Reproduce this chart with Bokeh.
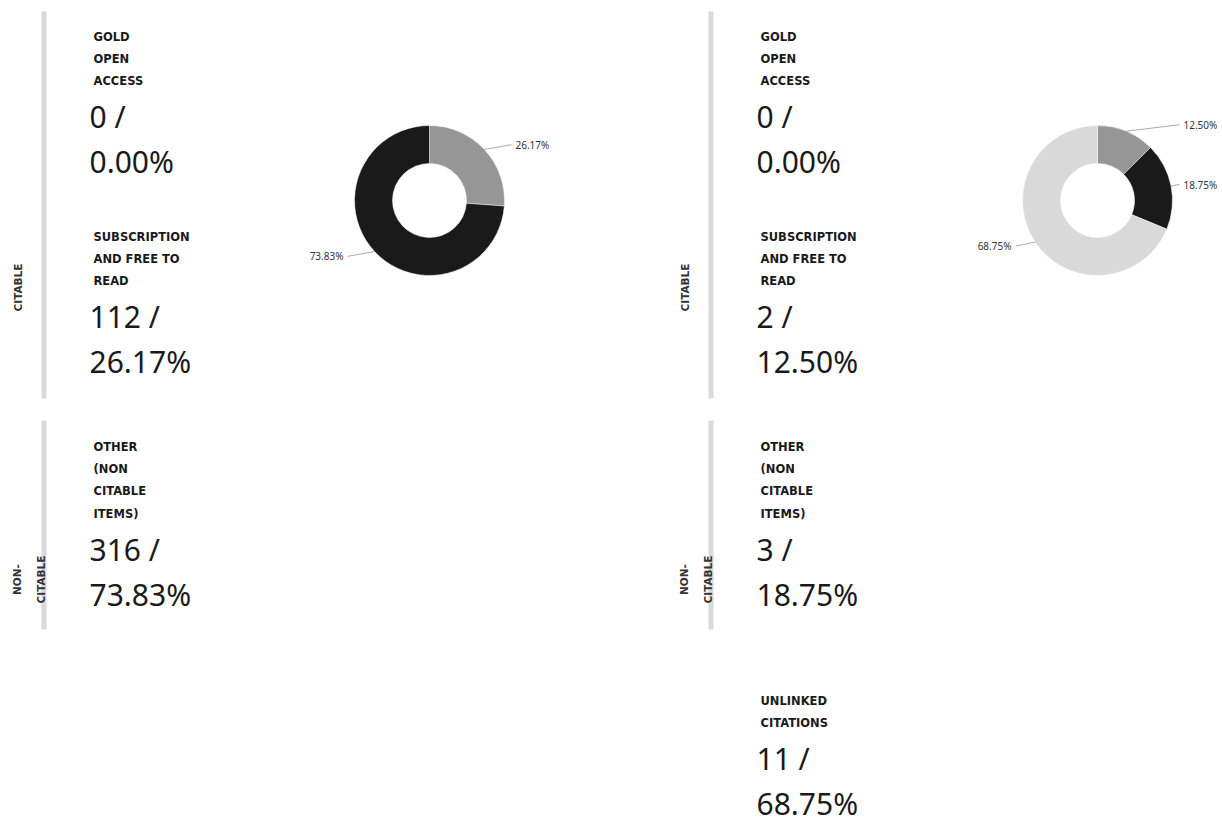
import math
from bokeh.plotting import figure
from bokeh.models import Range1d
from bokeh.core.properties import value
from bokeh.embed import file_html
from bokeh.resources import INLINE

# ---------------- data ----------------
left_labels = ["GOLD\nOPEN\nACCESS", "SUBSCRIPTION\nAND FREE TO\nREAD", "OTHER\n(NON\nCITABLE\nITEMS)"]
left_counts = [0, 112, 316]
left_pcts = [0.00, 26.17, 73.83]
left_colors = ["#f0c020", "#969696", "#1a1a1a"]

right_labels = ["GOLD\nOPEN\nACCESS", "SUBSCRIPTION\nAND FREE TO\nREAD", "OTHER\n(NON\nCITABLE\nITEMS)", "UNLINKED\nCITATIONS"]
right_counts = [0, 2, 3, 11]
right_pcts = [0.00, 12.50, 18.75, 68.75]
right_colors = ["#f0c020", "#969696", "#1a1a1a", "#d9d9d9"]

group_labels = ["CITABLE", "NON-\nCITABLE"]

# ---------------- figure ----------------
W, H = 1222, 823
p = figure(width=W, height=H, output_backend="svg", toolbar_location=None,
           x_range=Range1d(0, W), y_range=Range1d(-H, 0),
           x_axis_location=None, y_axis_location=None, min_border=0)
p.grid.visible = False
p.outline_line_color = None
p.background_fill_color = "white"

FONT = value("Noto Sans")
LFONT = value("DejaVu Sans")
TXT = "#1a1a1a"

def Y(v):
    return -v

def panel(dx, labels, counts, pcts, colors, cx, cy):
    # grey group bars
    p.quad(left=[41 + dx, 41 + dx], right=[46 + dx, 46 + dx],
           top=[Y(11), Y(420)], bottom=[Y(398), Y(629)],
           fill_color="#d9d9d9", line_color=None)
    # group labels (rotated)
    p.text(x=[17 + dx], y=[Y(287)], text=[group_labels[0]], angle=math.pi / 2,
           text_font=LFONT, text_font_size="10.5px", text_font_style="bold",
           text_color="#333333", text_align="center", text_baseline="middle")
    p.text(x=[16 + dx, 40 + dx], y=[Y(579), Y(579)], text=group_labels[1].split("\n"),
           angle=math.pi / 2, text_font=LFONT, text_font_size="10.5px", text_font_style="bold",
           text_color="#333333", text_align="center", text_baseline="middle")
    # category blocks (y = visual middle of each line)
    starts = [36.5, 236.5, 446.5, 700.5]
    for i, lab in enumerate(labels):
        lines = lab.split("\n")
        b0 = starts[i]
        xs = [93 + dx] * len(lines)
        ys = [Y(b0 + 22.2 * k) for k in range(len(lines))]
        p.text(x=xs, y=ys, text=lines, text_font=LFONT, text_font_size="11.5px",
               text_font_style="bold", text_color=TXT, text_baseline="middle")
        nb = b0 + 22.2 * (len(lines) - 1) + 35.5
        p.text(x=[89 + dx, 89 + dx], y=[Y(nb), Y(nb + 45)],
               text=[f"{counts[i]} /", f"{pcts[i]:.2f}%"], text_font=FONT,
               text_font_size="30px", text_color=TXT, text_baseline="middle")
    # donut
    r_out, r_in = 75, 37
    cum = 0.0
    for i, pc in enumerate(pcts):
        if pc <= 0:
            continue
        a0 = cum / 100.0
        a1 = (cum + pc) / 100.0
        p.annular_wedge(x=[cx], y=[Y(cy)], inner_radius=r_in, outer_radius=r_out,
                        start_angle=math.pi / 2 - 2 * math.pi * a1,
                        end_angle=math.pi / 2 - 2 * math.pi * a0,
                        fill_color=colors[i], line_color="white", line_width=0.5)
        mid = 2 * math.pi * (a0 + a1) / 2
        sx = cx + r_out * math.sin(mid)
        sy = cy - r_out * math.cos(mid)
        ly = cy - 82 * math.cos(mid)
        right = math.sin(mid) >= 0
        lx = cx + 86 if right else cx - 86
        ex = lx - 4 if right else lx + 4
        p.segment(x0=[sx], y0=[Y(sy)], x1=[ex], y1=[Y(ly)], line_color="#aaaaaa", line_width=1)
        p.text(x=[lx], y=[Y(ly)], text=[f"{pc:.2f}%"], text_font=FONT, text_font_size="10px",
               text_color="#333333", text_baseline="middle",
               text_align="left" if right else "right")
        cum += pc

panel(0, left_labels, left_counts, left_pcts, left_colors, 429, 200)
panel(667, right_labels, right_counts, right_pcts, right_colors, 1097, 200)

open("out.html", "w").write(file_html(p, INLINE))
